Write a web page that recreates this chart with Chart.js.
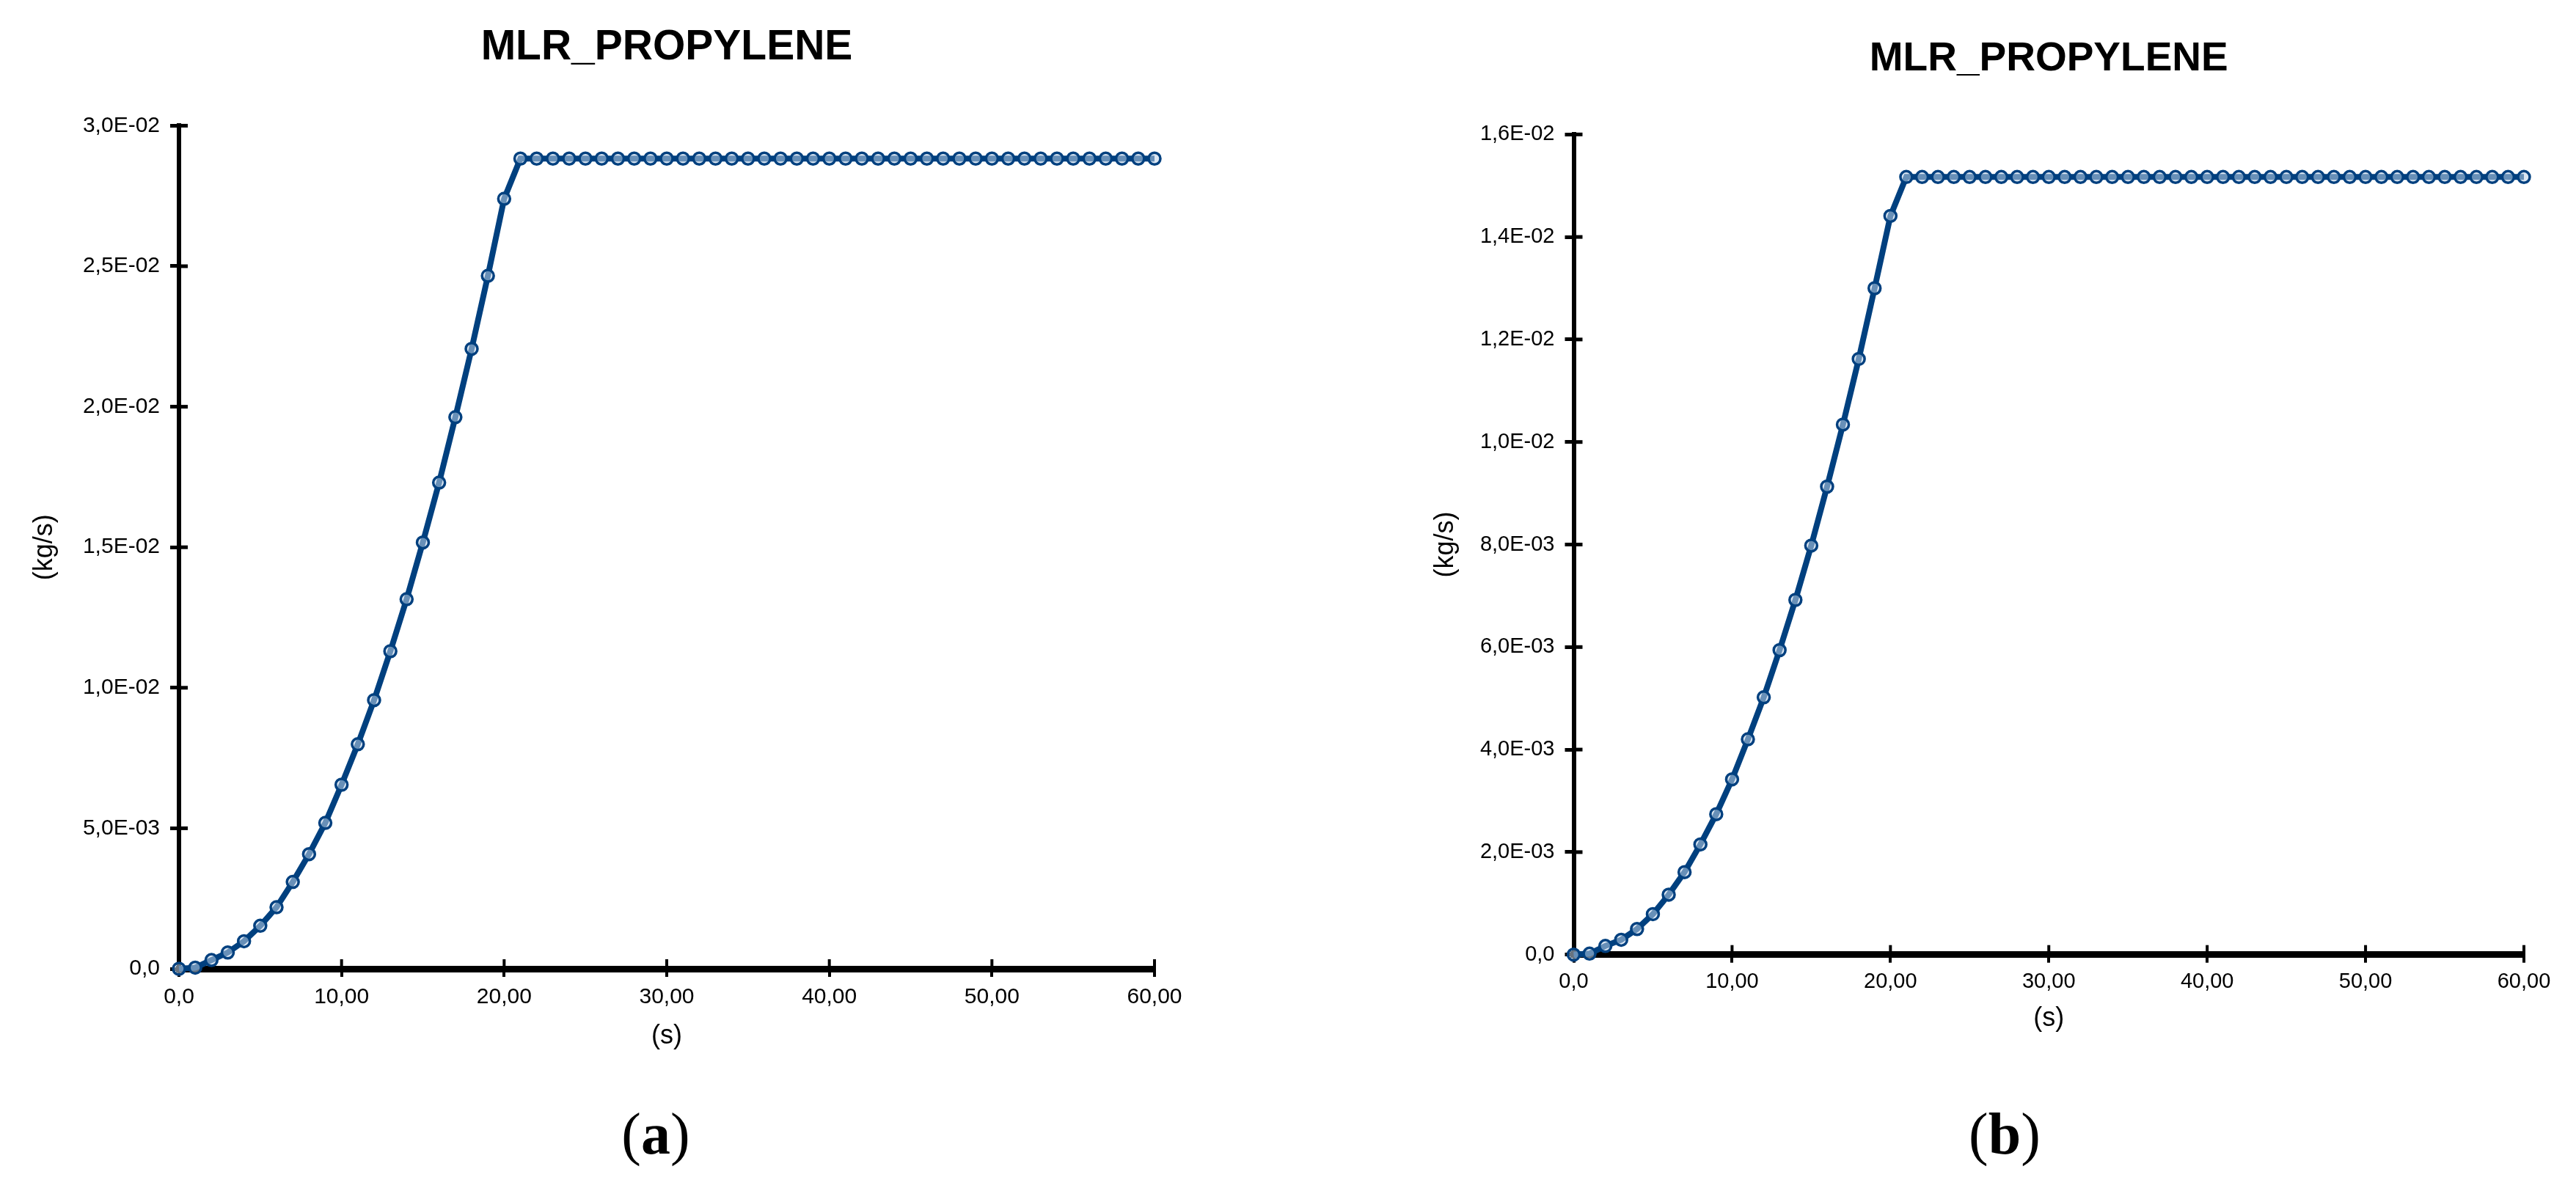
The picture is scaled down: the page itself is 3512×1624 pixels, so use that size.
<!DOCTYPE html>
<html>
<head>
<meta charset="utf-8">
<script src="https://cdn.jsdelivr.net/npm/chart.js@4.4.1/dist/chart.umd.min.js"></script>
<style>
html,body{margin:0;padding:0;background:#fff;width:3512px;height:1624px;overflow:hidden}
canvas{position:absolute;top:0}
#ca{left:0}
#cb{left:1750px}
</style>
</head>
<body>
<canvas id="ca" width="1750" height="1624"></canvas>
<canvas id="cb" width="1762" height="1624"></canvas>
<script>
// ---------- data ----------
const titleText = "MLR_PROPYLENE";
const xAxisTitle = "(s)";
const yAxisTitle = "(kg/s)";

const time = [
  0, 1, 2, 3, 4, 5, 6, 7, 8, 9,
  10, 11, 12, 13, 14, 15, 16, 17, 18, 19,
  20, 21, 22, 23, 24, 25, 26, 27, 28, 29,
  30, 31, 32, 33, 34, 35, 36, 37, 38, 39,
  40, 41, 42, 43, 44, 45, 46, 47, 48, 49,
  50, 51, 52, 53, 54, 55, 56, 57, 58, 59,
  60
];

// (a) mass loss rate, kg/s
const mlrA = [
  0, 0.00004, 0.00031, 0.00058, 0.00098, 0.00153, 0.00219, 0.00309, 0.00408, 0.00519,
  0.00655, 0.00799, 0.00956, 0.0113, 0.01315, 0.01517, 0.0173, 0.01963, 0.02206, 0.02466,
  0.0274, 0.02883, 0.02883, 0.02883, 0.02883, 0.02883, 0.02883, 0.02883, 0.02883, 0.02883,
  0.02883, 0.02883, 0.02883, 0.02883, 0.02883, 0.02883, 0.02883, 0.02883, 0.02883, 0.02883,
  0.02883, 0.02883, 0.02883, 0.02883, 0.02883, 0.02883, 0.02883, 0.02883, 0.02883, 0.02883,
  0.02883, 0.02883, 0.02883, 0.02883, 0.02883, 0.02883, 0.02883, 0.02883, 0.02883, 0.02883,
  0.02883
];

// (b) mass loss rate, kg/s
const mlrB = [
  0, 0.00002, 0.00017, 0.00029, 0.0005, 0.00079, 0.00117, 0.00161, 0.00215, 0.00274,
  0.00342, 0.0042, 0.00502, 0.00594, 0.00692, 0.00798, 0.00913, 0.01034, 0.01162, 0.013,
  0.01441, 0.01517, 0.01517, 0.01517, 0.01517, 0.01517, 0.01517, 0.01517, 0.01517, 0.01517,
  0.01517, 0.01517, 0.01517, 0.01517, 0.01517, 0.01517, 0.01517, 0.01517, 0.01517, 0.01517,
  0.01517, 0.01517, 0.01517, 0.01517, 0.01517, 0.01517, 0.01517, 0.01517, 0.01517, 0.01517,
  0.01517, 0.01517, 0.01517, 0.01517, 0.01517, 0.01517, 0.01517, 0.01517, 0.01517, 0.01517,
  0.01517
];

const xTickValues = [0, 10, 20, 30, 40, 50, 60];
const xTickLabels = ["0,0", "10,00", "20,00", "30,00", "40,00", "50,00", "60,00"];

const yTickValuesA = [0, 0.005, 0.01, 0.015, 0.02, 0.025, 0.03];
const yTickLabelsA = ["0,0", "5,0E-03", "1,0E-02", "1,5E-02", "2,0E-02", "2,5E-02", "3,0E-02"];

const yTickValuesB = [0, 0.002, 0.004, 0.006, 0.008, 0.01, 0.012, 0.014, 0.016];
const yTickLabelsB = ["0,0", "2,0E-03", "4,0E-03", "6,0E-03", "8,0E-03", "1,0E-02", "1,2E-02", "1,4E-02", "1,6E-02"];

const panelLetters = ["a", "b"];

// ---------- helpers ----------
const SANS = '"Liberation Sans", Arial, sans-serif';
const SERIF = '"Liberation Serif", "Times New Roman", serif';
const LINE_COLOR = '#00407f';

function labelFor(values, labels, v) {
  for (let i = 0; i < values.length; i++) {
    if (Math.abs(values[i] - v) < 1e-9) return labels[i];
  }
  return '';
}

const innerTicks = {
  id: 'innerTicks',
  beforeDatasetsDraw(chart) {
    const ctx = chart.ctx;
    const area = chart.chartArea;
    const xs = chart.scales.x, ys = chart.scales.y;
    ctx.save();
    ctx.strokeStyle = '#000';
    ctx.lineWidth = 4;
    xs.ticks.forEach(t => {
      const px = xs.getPixelForValue(t.value);
      ctx.beginPath();
      ctx.moveTo(px, area.bottom);
      ctx.lineTo(px, area.bottom - 13);
      ctx.stroke();
    });
    ctx.lineWidth = 5;
    ys.ticks.forEach(t => {
      const py = ys.getPixelForValue(t.value);
      ctx.beginPath();
      ctx.moveTo(area.left, py);
      ctx.lineTo(area.left + 12, py);
      ctx.stroke();
    });
    ctx.restore();
  }
};

const panelLabel = {
  id: 'panelLabel',
  afterDraw(chart, args, opts) {
    const ctx = chart.ctx;
    ctx.save();
    ctx.fillStyle = '#000';
    ctx.textBaseline = 'alphabetic';
    ctx.textAlign = 'left';
    const fN = `${opts.size}px ${SERIF}`;
    const fB = `bold ${opts.size}px ${SERIF}`;
    ctx.font = fN; const w1 = ctx.measureText('(').width; const w3 = ctx.measureText(')').width;
    ctx.font = fB; const w2 = ctx.measureText(opts.letter).width;
    let x = opts.x - (w1 + w2 + w3) / 2;
    ctx.font = fN; ctx.fillText('(', x, opts.y); x += w1;
    ctx.font = fB; ctx.fillText(opts.letter, x, opts.y); x += w2;
    ctx.font = fN; ctx.fillText(')', x, opts.y);
    ctx.restore();
  }
};

function makeChart(id, values, yVals, yLabels, L) {
  const points = time.map((t, i) => ({ x: t, y: values[i] }));
  return new Chart(document.getElementById(id), {
    type: 'line',
    data: {
      datasets: [{
        data: points,
        borderColor: LINE_COLOR,
        borderWidth: 8,
        pointRadius: 8,
        pointBorderWidth: 3.5,
        pointBorderColor: LINE_COLOR,
        pointBackgroundColor: 'rgba(190,210,232,0.55)',
        tension: 0,
        clip: false
      }]
    },
    plugins: [innerTicks, panelLabel],
    options: {
      responsive: false,
      animation: false,
      devicePixelRatio: 1,
      layout: { padding: { left: 0, top: 0, right: L.padRight, bottom: 0 } },
      plugins: {
        legend: { display: false },
        tooltip: { enabled: false },
        title: {
          display: true,
          text: titleText,
          fullSize: false,
          color: '#000',
          font: { family: SANS, size: L.titleSize, weight: 'bold', lineHeight: 1.2 },
          padding: { top: L.titlePadTop, bottom: L.titlePadBottom }
        },
        panelLabel: { letter: L.letter, x: L.labelX, y: L.labelY, size: 80 }
      },
      scales: {
        x: {
          type: 'linear',
          min: 0, max: 60,
          afterBuildTicks: s => { s.ticks = xTickValues.map(v => ({ value: v })); },
          afterFit: s => { s.height = L.xHeight; },
          border: { display: true, color: '#000', width: 9 },
          grid: { drawOnChartArea: false, color: '#000', lineWidth: 4, tickLength: 11 },
          ticks: {
            color: '#000',
            padding: L.xTickPad,
            maxRotation: 0,
            autoSkip: false,
            font: { family: SANS, size: L.tickSize, lineHeight: 1.2 },
            callback: v => labelFor(xTickValues, xTickLabels, v)
          },
          title: {
            display: true,
            text: xAxisTitle,
            color: '#000',
            font: { family: SANS, size: 36, lineHeight: 1.2 },
            padding: { top: 0, bottom: L.xTitlePadBottom }
          }
        },
        y: {
          type: 'linear',
          min: 0, max: yVals[yVals.length - 1],
          afterBuildTicks: s => { s.ticks = yVals.map(v => ({ value: v })); },
          afterFit: s => { s.width = L.yWidth; },
          border: { display: true, color: '#000', width: 6 },
          grid: { drawOnChartArea: false, color: '#000', lineWidth: 5, tickLength: 12 },
          ticks: {
            color: '#000',
            padding: 14,
            autoSkip: false,
            font: { family: SANS, size: L.tickSize, lineHeight: 1.2 },
            callback: v => labelFor(yVals, yLabels, v)
          },
          title: {
            display: true,
            text: yAxisTitle,
            color: '#000',
            font: { family: SANS, size: 36, lineHeight: 1.2 },
            padding: { top: L.yTitlePadTop, bottom: 0 }
          }
        }
      }
    }
  });
}

makeChart('ca', mlrA, yTickValuesA, yTickLabelsA, {
  padRight: 176, yWidth: 244, xHeight: 303,
  titleSize: 57, titlePadTop: 31, titlePadBottom: 72,
  xTickPad: 10, tickSize: 30,
  xTitlePadBottom: 189, yTitlePadTop: 39,
  letter: panelLetters[0], labelX: 894, labelY: 1573
});

makeChart('cb', mlrB, yTickValuesB, yTickLabelsB, {
  padRight: 71, yWidth: 395.5, xHeight: 322.3,
  titleSize: 55, titlePadTop: 48, titlePadBottom: 69.3,
  xTickPad: 9.3, tickSize: 29,
  xTitlePadBottom: 213, yTitlePadTop: 199,
  letter: panelLetters[1], labelX: 983, labelY: 1573
});
</script>
</body>
</html>
